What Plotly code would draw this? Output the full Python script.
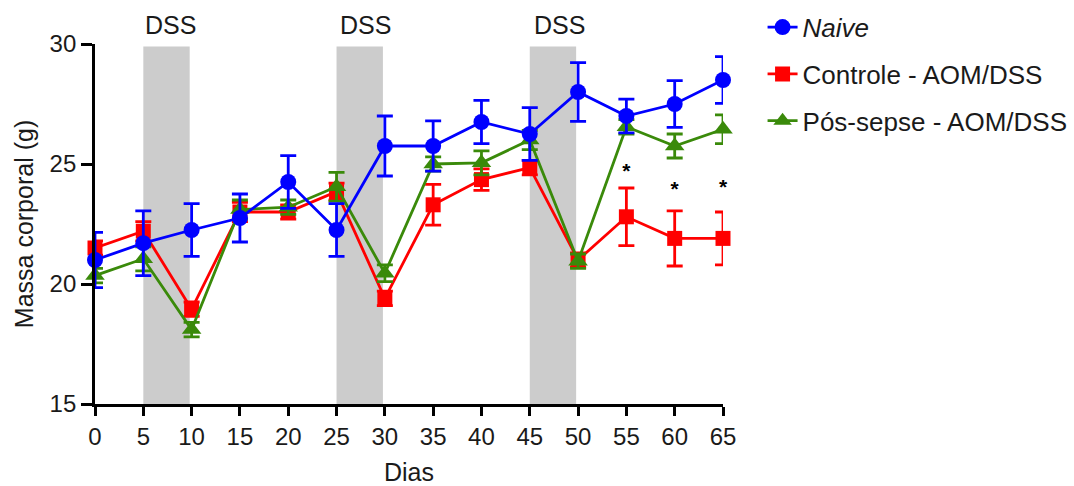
import plotly.graph_objects as go

dias = [0, 5, 10, 15, 20, 25, 30, 35, 40, 45, 50, 55, 60, 65]

naive = [21.0, 21.7, 22.25, 22.75, 24.25, 22.25, 25.75, 25.75, 26.75, 26.25, 28.0, 27.0, 27.5, 28.5]
naive_err = [1.15, 1.35, 1.1, 1.0, 1.1, 1.1, 1.25, 1.05, 0.9, 1.1, 1.22, 0.7, 0.97, 0.97]

controle = [21.5, 22.2, 18.95, 23.0, 23.0, 23.85, 19.4, 23.3, 24.35, 24.85, 21.0, 22.8, 21.9, 21.9]
controle_err = [0.3, 0.4, 0.3, 0.4, 0.3, 0.35, 0.3, 0.85, 0.45, 0.3, 0.3, 1.2, 1.15, 1.1]

pos_sepse = [20.35, 21.05, 18.1, 23.1, 23.2, 24.05, 20.45, 25.0, 25.05, 26.0, 20.95, 26.55, 25.75, 26.45]
pos_sepse_err = [0.3, 0.5, 0.3, 0.4, 0.3, 0.6, 0.35, 0.3, 0.5, 0.4, 0.3, 0.3, 0.5, 0.6]

dss_start = [5, 25, 45]
dss_end = [9.8, 29.8, 49.8]
dss_label_x = [7.8, 28.0, 48.1]

sig_x = [55, 60, 65]
sig_y = [24.62, 23.88, 23.98]

font_family = "Liberation Sans, Arial, sans-serif"
BLUE = "#0000FF"
RED = "#FF0000"
GREEN = "#3A8A0A"

fig = go.Figure()

def add_series(name, y, err, color, symbol, rank, size):
    fig.add_trace(go.Scatter(
        x=dias, y=y, name=name, mode="lines+markers",
        line=dict(color=color, width=2.8),
        marker=dict(color=color, symbol=symbol, size=size),
        error_y=dict(type="data", array=err, visible=True, color=color,
                     thickness=2.8, width=8),
        legendrank=rank, legendgroup=name, cliponaxis=False,
    ))

add_series("Controle - AOM/DSS", controle, controle_err, RED, "square", 2, 15)
add_series("Pós-sepse - AOM/DSS", pos_sepse, pos_sepse_err, GREEN, "triangle-up", 3, 17)
add_series("<i>Naive</i>", naive, naive_err, BLUE, "circle", 1, 16)

fig.add_trace(go.Scatter(
    x=sig_x, y=sig_y, mode="text", text=["<b>*</b>"] * len(sig_x),
    textfont=dict(size=21, color="black", family=font_family),
    showlegend=False, cliponaxis=False, hoverinfo="skip",
))

for s, e, lx in zip(dss_start, dss_end, dss_label_x):
    fig.add_shape(type="rect", xref="x", yref="y", x0=s, x1=e, y0=15, y1=29.9,
                  fillcolor="#CCCCCC", line=dict(width=0), layer="below")
    fig.add_annotation(x=lx, xref="x", y=1.053, yref="paper", text="DSS",
                       showarrow=False, font=dict(size=25, color="#1a1a1a", family=font_family),
                       xanchor="center", yanchor="middle")

fig.update_layout(
    width=1074, height=486,
    margin=dict(l=95, r=351, t=44, b=82, autoexpand=False),
    plot_bgcolor="white", paper_bgcolor="white",
    font=dict(family=font_family, size=24, color="#1a1a1a"),
    showlegend=True,
    legend=dict(x=1.063, y=1.112, xanchor="left", yanchor="top",
                font=dict(size=26, family=font_family),
                traceorder="grouped", tracegroupgap=10,
                bgcolor="rgba(0,0,0,0)"),
    xaxis=dict(range=[0, 65], tickmode="array", tickvals=dias,
               showgrid=False, zeroline=False, showline=True,
               linecolor="black", linewidth=2.8, ticks="outside",
               ticklen=9, tickwidth=2.8, tickcolor="black",
               tickfont=dict(size=24), automargin=False,
               title=dict(text="Dias", font=dict(size=25), standoff=27)),
    yaxis=dict(range=[15, 30], tickvals=[15, 20, 25, 30],
               showgrid=False, zeroline=False, showline=True,
               linecolor="black", linewidth=2.8, ticks="outside",
               ticklen=11, tickwidth=2.8, tickcolor="black",
               tickfont=dict(size=24), automargin=False,
               title=dict(text="Massa corporal (g)", font=dict(size=25), standoff=9)),
)

fig.write_html("out.html")
